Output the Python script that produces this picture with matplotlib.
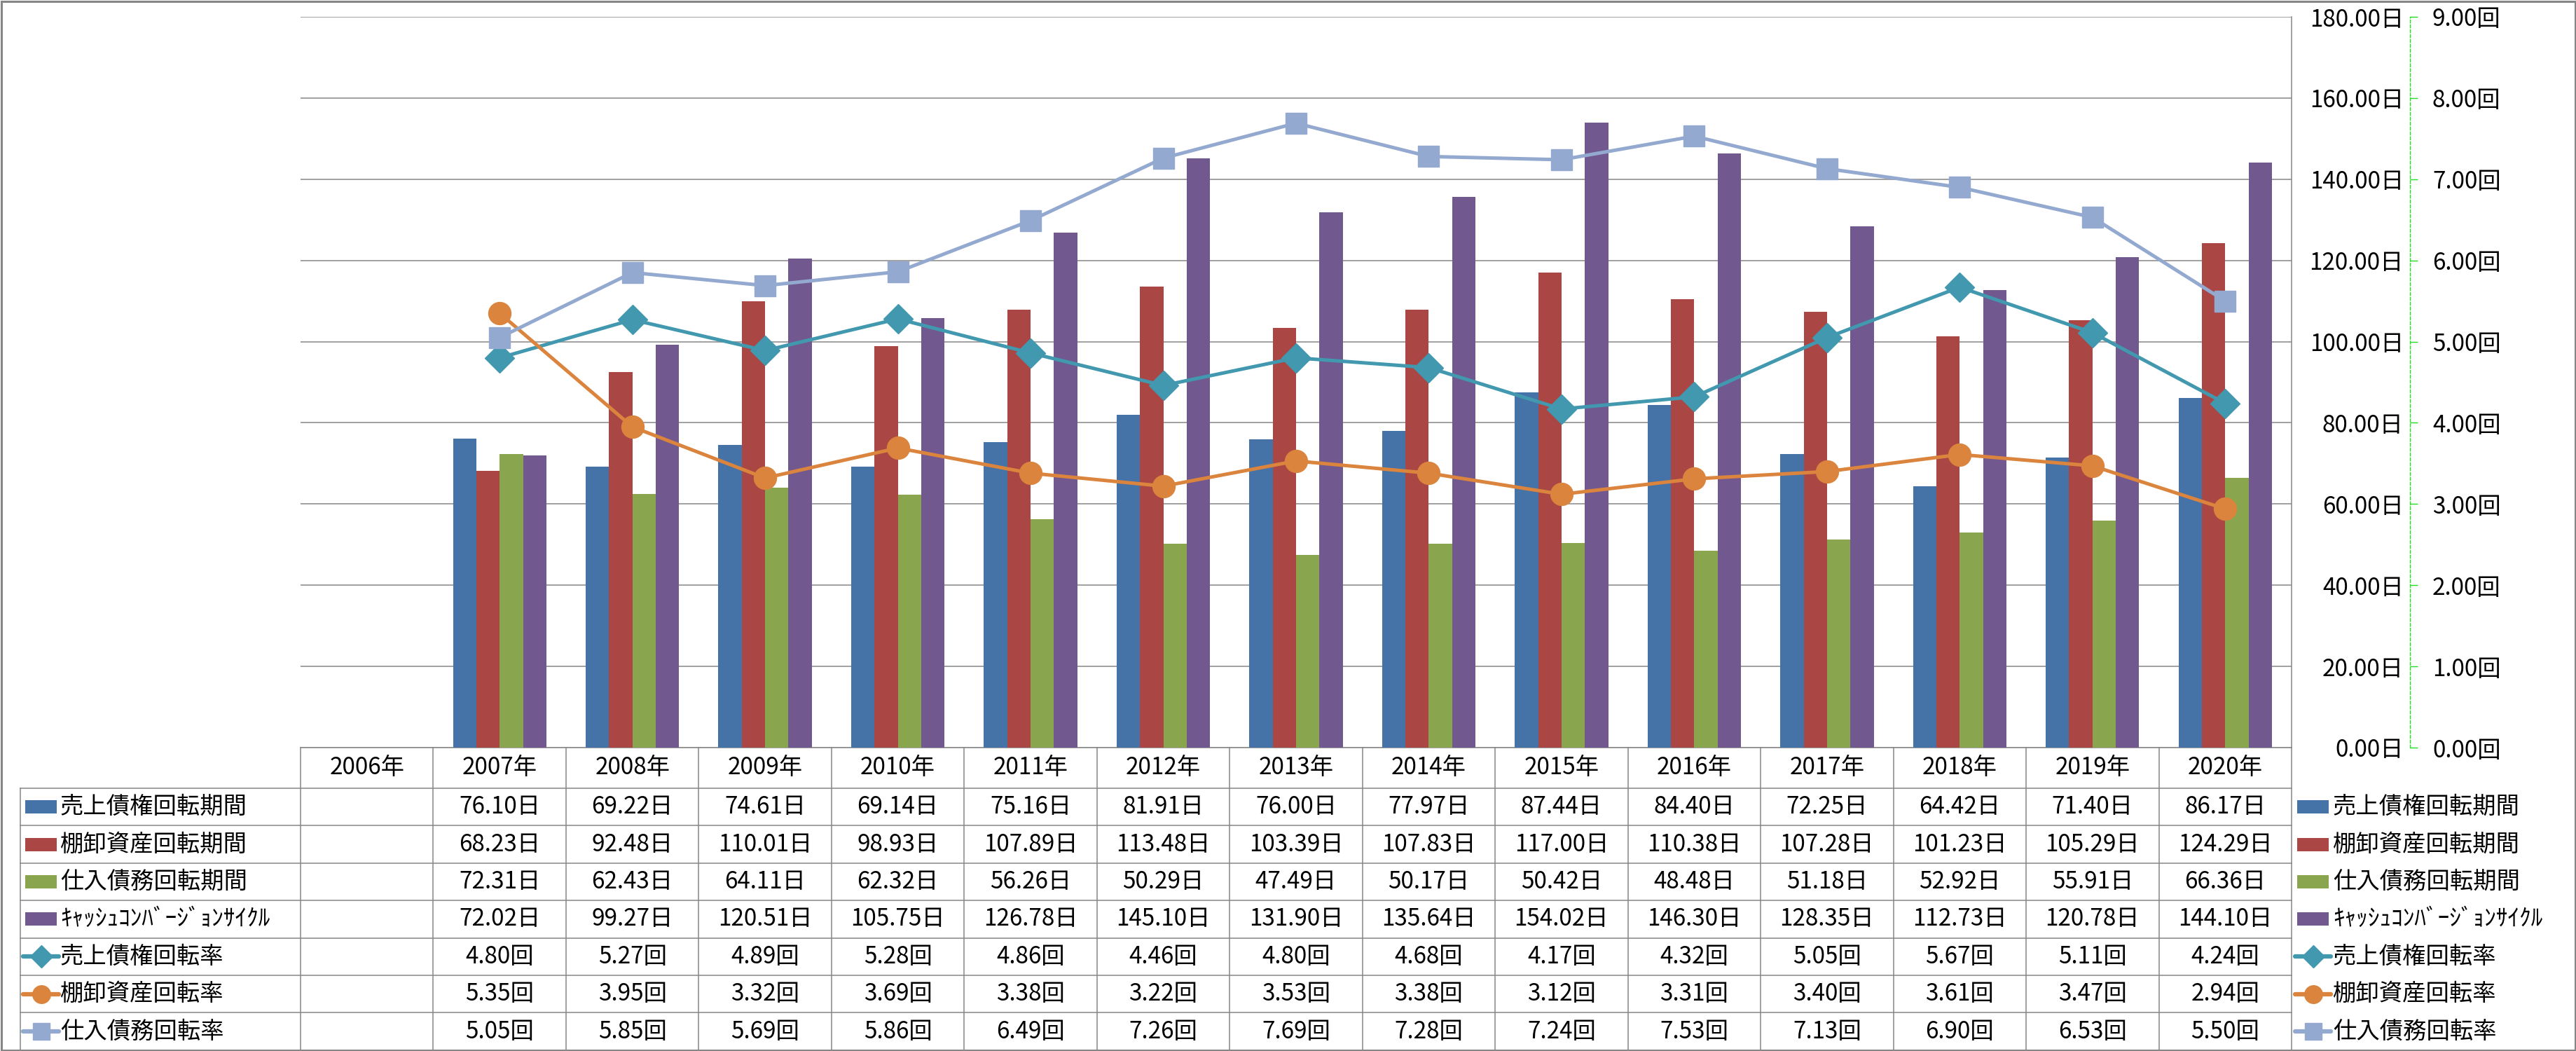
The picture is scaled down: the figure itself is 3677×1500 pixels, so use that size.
import matplotlib
matplotlib.use("Agg")
import matplotlib.pyplot as plt
from matplotlib.patches import Rectangle
import numpy as np

plt.rcParams["font.family"] = ["Noto Sans CJK JP", "DejaVu Sans"]

years = ["2006年", "2007年", "2008年", "2009年", "2010年", "2011年", "2012年", "2013年",
         "2014年", "2015年", "2016年", "2017年", "2018年", "2019年", "2020年"]

# values for 2007..2020 (2006 has no data)
receivable_days = [76.10, 69.22, 74.61, 69.14, 75.16, 81.91, 76.00, 77.97, 87.44, 84.40, 72.25, 64.42, 71.40, 86.17]
inventory_days = [68.23, 92.48, 110.01, 98.93, 107.89, 113.48, 103.39, 107.83, 117.00, 110.38, 107.28, 101.23, 105.29, 124.29]
payable_days = [72.31, 62.43, 64.11, 62.32, 56.26, 50.29, 47.49, 50.17, 50.42, 48.48, 51.18, 52.92, 55.91, 66.36]
ccc_days = [72.02, 99.27, 120.51, 105.75, 126.78, 145.10, 131.90, 135.64, 154.02, 146.30, 128.35, 112.73, 120.78, 144.10]
receivable_turn = [4.80, 5.27, 4.89, 5.28, 4.86, 4.46, 4.80, 4.68, 4.17, 4.32, 5.05, 5.67, 5.11, 4.24]
inventory_turn = [5.35, 3.95, 3.32, 3.69, 3.38, 3.22, 3.53, 3.38, 3.12, 3.31, 3.40, 3.61, 3.47, 2.94]
payable_turn = [5.05, 5.85, 5.69, 5.86, 6.49, 7.26, 7.69, 7.28, 7.24, 7.53, 7.13, 6.90, 6.53, 5.50]

bar_series = [
    ("売上債権回転期間", receivable_days, "#4572A7"),
    ("棚卸資産回転期間", inventory_days, "#AA4643"),
    ("仕入債務回転期間", payable_days, "#89A54E"),
    ("ｷｬｯｼｭｺﾝﾊﾞｰｼﾞｮﾝｻｲｸﾙ", ccc_days, "#71588F"),
]
line_series = [
    ("売上債権回転率", receivable_turn, "#4198AF", "D", 21),
    ("棚卸資産回転率", inventory_turn, "#DB843D", "o", 23),
    ("仕入債務回転率", payable_turn, "#93A9CF", "s", 21),
]

left_ticks = np.arange(0, 181, 20)
right_ticks = np.arange(0, 10, 1)

W, H = 3677, 1500
fig = plt.figure(figsize=(W / 100, H / 100), dpi=100)
fig.patch.set_facecolor("white")

grid_c = "#868686"
plot_l, plot_r, plot_t, plot_b = 429, 3271, 24, 1067
col_w = (plot_r - plot_l) / len(years)
axis_off = 169 * 0.72  # pixel offset of the value axis, in points

# overlay in pixel coordinates for table, legend and border
fax = fig.add_axes([0, 0, 1, 1])
fax.set_xlim(0, W)
fax.set_ylim(H, 0)
fax.axis("off")

ax = fig.add_axes([plot_l / W, (H - plot_b) / H, (plot_r - plot_l) / W, (plot_b - plot_t) / H])
ax.patch.set_alpha(0)
ax2 = ax.twinx()

x = np.arange(len(years))
xd = x[1:]
bw = 0.176
for i, (name, vals, color) in enumerate(bar_series):
    ax.bar(xd + (i - 1.5) * bw, vals, bw, color=color, zorder=2)

ax.set_xlim(-0.5, len(years) - 0.5)
ax.set_ylim(0, 180)
ax.set_xticks([])
ax.set_yticks(left_ticks)
ax.set_yticklabels([f"{v:.2f}日" for v in left_ticks])
ax.grid(True, axis="y", color=grid_c, linewidth=1.1, zorder=0)
ax.yaxis.set_ticks_position("right")
ax.spines["right"].set_position(("outward", axis_off))
for s in ax.spines.values():
    s.set_visible(False)
ax.tick_params(axis="y", length=0, pad=-9 * 0.72, labelsize=24,
               labelleft=False, labelright=True)
for t in ax.yaxis.get_major_ticks():
    t.label2.set_horizontalalignment("right")
ax.plot([1, 1], [0, 1], transform=ax.transAxes, color=grid_c, lw=1.1, clip_on=False)

for name, vals, color, mk, ms in line_series:
    ax2.plot(xd, vals, color=color, lw=3.6, marker=mk, markersize=ms,
             markerfacecolor=color, markeredgecolor=color, zorder=3)
ax2.set_ylim(0, 9)
ax2.set_yticks(right_ticks)
ax2.set_yticklabels([f"{v:.2f}回" for v in right_ticks])
for s in ["left", "top", "bottom"]:
    ax2.spines[s].set_visible(False)
ax2.spines["right"].set_position(("outward", axis_off))
ax2.spines["right"].set_color("#22dd22")
ax2.spines["right"].set_linestyle((0, (3, 2)))
ax2.spines["right"].set_linewidth(1.0)
ax2.tick_params(axis="y", direction="out", length=8, width=1.0, color="#22dd22",
                pad=15, labelsize=24)

# data table
left_x = 29
head_h = 58
row_h = 53.4
n_rows = len(bar_series) + len(line_series)
table_bot = plot_b + head_h + n_rows * row_h
lw_t = 1.1
fax.plot([plot_l, plot_r], [plot_b, plot_b], color=grid_c, lw=lw_t)
for k in range(n_rows + 1):
    yy = plot_b + head_h + k * row_h
    fax.plot([left_x, plot_r], [yy, yy], color=grid_c, lw=lw_t)
for j in range(len(years) + 1):
    xx = plot_l + j * col_w
    fax.plot([xx, xx], [plot_b, table_bot], color=grid_c, lw=lw_t)
fax.plot([left_x, left_x], [plot_b + head_h, table_bot], color=grid_c, lw=lw_t)

for j, yr in enumerate(years):
    fax.text(plot_l + (j + 0.5) * col_w, plot_b + head_h / 2, yr,
             ha="center", va="center", fontsize=24)

rows = [(n, v, "日", ("bar", c)) for n, v, c in bar_series] + \
       [(n, v, "回", ("line", c, mk, ms)) for n, v, c, mk, ms in line_series]


def draw_key(x0, yc, key):
    if key[0] == "bar":
        fax.add_patch(Rectangle((x0, yc - 9.5), 45, 19, color=key[1], lw=0))
    else:
        _, c, mk, ms = key
        fax.plot([x0 - 3, x0 + 48], [yc, yc], color=c, lw=4.5, solid_capstyle="round")
        fax.plot([x0 + 22.5], [yc], marker=mk, markersize=ms * 0.8, color=c)


for r, (name, vals, unit, key) in enumerate(rows):
    yc = plot_b + head_h + (r + 0.5) * row_h
    draw_key(36, yc, key)
    fax.text(86, yc, name, ha="left", va="center", fontsize=24)
    draw_key(3279, yc, key)
    fax.text(3330, yc, name, ha="left", va="center", fontsize=24)
    for j, v in enumerate(vals):
        fax.text(plot_l + (j + 1.5) * col_w, yc, f"{v:.2f}{unit}",
                 ha="center", va="center", fontsize=24)

fax.add_patch(Rectangle((1.5, 1.5), W - 3, H - 3, fill=False, edgecolor=grid_c, lw=2.2))

fig.savefig("out.png", dpi=100)
